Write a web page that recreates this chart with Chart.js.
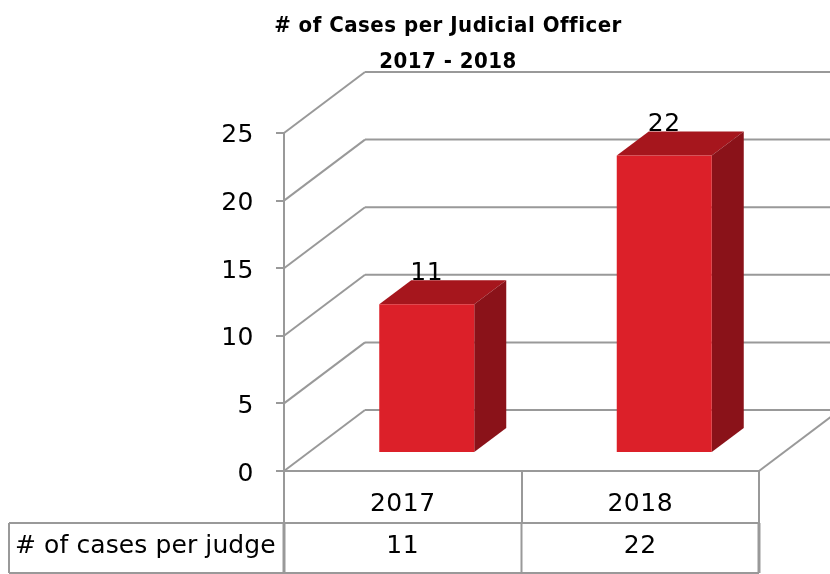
<!DOCTYPE html>
<html><head><meta charset="utf-8">
<style>html,body{margin:0;padding:0;background:#fff}#w{width:830px;height:574px}</style>
<script src="https://cdn.jsdelivr.net/npm/chart.js@4"></script></head>
<body><div id="w"><canvas id="c"></canvas></div>
<script>
const categories = ['2017', '2018'];
const seriesName = '# of cases per judge';
const caseValues = [11, 22];
const titleLines = ['# of Cases per Judicial Officer', '2017 - 2018'];
const yTicks = [0, 5, 10, 15, 20, 25];

const GRID = '#999999', TXT = '#000000', FAM = '"DejaVu Sans"';
const wallDX = 81, wallDY = -61;
const barOffX = 24, barOffY = -18, barDX = 32, barDY = -24;
const tableBottom = 573, tableLeft = 9, rowTop = 523;

function line(ctx, x1, y1, x2, y2, w) {
  ctx.beginPath(); ctx.moveTo(x1, y1); ctx.lineTo(x2, y2);
  ctx.lineWidth = w || 2; ctx.strokeStyle = GRID; ctx.stroke();
}
const box3d = {
  id: 'box3d',
  beforeDraw(chart) { chart.ctx.letterSpacing = '0.5px'; },
  beforeDatasetsDraw(chart) {
    const { ctx, scales: { x, y }, chartArea: a } = chart;
    ctx.save();
    yTicks.forEach(v => {
      const py = y.getPixelForValue(v);
      line(ctx, a.left, py, a.left + wallDX, py + wallDY);
      line(ctx, a.left + wallDX, py + wallDY, a.right + wallDX, py + wallDY);
    });
    const by = y.getPixelForValue(0);
    line(ctx, a.right, by, a.right + wallDX, by + wallDY);
    ctx.restore();
  },
  beforeDatasetDraw(chart, args) {
    const { ctx } = chart;
    const els = chart.getDatasetMeta(args.index).data;
    ctx.save();
    ctx.translate(barOffX, barOffY);
    els.forEach(el => {
      const p = el.getProps(['x', 'y', 'base', 'width'], true);
      const l = p.x - p.width / 2, r = p.x + p.width / 2;
      ctx.fillStyle = '#a6161d';
      ctx.beginPath(); ctx.moveTo(l, p.y); ctx.lineTo(l + barDX, p.y + barDY);
      ctx.lineTo(r + barDX, p.y + barDY); ctx.lineTo(r, p.y); ctx.closePath(); ctx.fill();
      ctx.fillStyle = '#8a1219';
      ctx.beginPath(); ctx.moveTo(r, p.y); ctx.lineTo(r + barDX, p.y + barDY);
      ctx.lineTo(r + barDX, p.base + barDY); ctx.lineTo(r, p.base); ctx.closePath(); ctx.fill();
    });
  },
  afterDatasetDraw(chart) { chart.ctx.restore(); },
  afterDraw(chart) {
    const { ctx, scales: { x, y }, chartArea: a } = chart;
    const font = '25px ' + FAM;
    ctx.save();
    ctx.font = font; ctx.fillStyle = TXT; ctx.textBaseline = 'middle'; ctx.textAlign = 'center';
    const meta = chart.getDatasetMeta(0).data;
    meta.forEach((el, i) => {
      ctx.fillText(String(caseValues[i]), el.x + barOffX, el.y + barOffY - 31);
    });
    // data table
    const edges = [tableLeft, a.left, x.getPixelForValue(0) + (x.getPixelForValue(1) - x.getPixelForValue(0)) / 2, a.right];
    line(ctx, tableLeft, rowTop, a.right, rowTop);
    line(ctx, tableLeft, tableBottom, a.right, tableBottom);
    edges.forEach((e, i) => line(ctx, e, rowTop, e, tableBottom, (i === 1 || i === 3) ? 3 : 2));
    const ry = (rowTop + tableBottom) / 2 - 2;
    ctx.textAlign = 'left';
    ctx.letterSpacing = '0.1px';
    ctx.fillText(seriesName, 15, ry);
    ctx.letterSpacing = '0.5px';
    ctx.textAlign = 'center';
    categories.forEach((c, i) => ctx.fillText(String(caseValues[i]), x.getPixelForValue(i), ry));
    ctx.restore();
  }
};

new Chart(document.getElementById('c'), {
  type: 'bar',
  data: { labels: categories, datasets: [{
    label: seriesName, data: caseValues, backgroundColor: '#dc2029', borderWidth: 0,
    barPercentage: 0.4, categoryPercentage: 1, clip: false
  }] },
  plugins: [box3d],
  options: {
    responsive: true, maintainAspectRatio: false, animation: false,
    layout: { padding: { left: 137, right: 71, top: 0, bottom: 51 } },
    plugins: {
      legend: { display: false }, tooltip: { enabled: false },
      title: { display: true, text: titleLines, color: TXT, align: 'center',
        font: { family: '"DejaVu Sans Condensed", ' + FAM, size: 22, weight: 'bold', lineHeight: 1.636 },
        padding: { top: 8, bottom: 53 } }
    },
    scales: {
      x: {
        afterFit: s => { s.height = 52; },
        border: { display: true, color: GRID, width: 2 },
        grid: { display: true, drawOnChartArea: false, drawTicks: true, tickLength: 52, color: GRID, lineWidth: 2, offset: true },
        ticks: { color: TXT, font: { family: FAM, size: 25 }, padding: -34, maxRotation: 0 }
      },
      y: {
        min: 0, max: 25,
        afterFit: s => { s.width = 147; },
        border: { display: true, color: GRID, width: 2 },
        grid: { display: true, drawOnChartArea: false, drawTicks: true, tickLength: 8, color: GRID, lineWidth: 2 },
        ticks: { color: TXT, font: { family: FAM, size: 25 }, stepSize: 5, padding: 22, labelOffset: 3,
          callback: (v) => yTicks.includes(v) ? String(v) : '' }
      }
    }
  }
});
</script></body></html>
